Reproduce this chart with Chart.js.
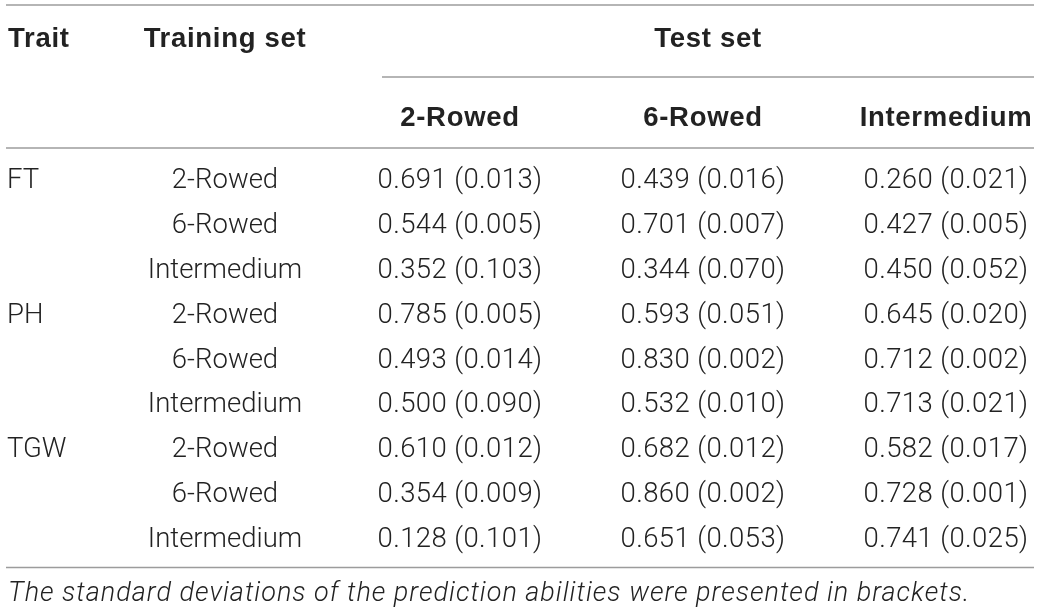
<!DOCTYPE html>
<html>
<head>
<meta charset="utf-8">
<script src="https://cdn.jsdelivr.net/npm/chart.js@4"></script>
<style>
  html, body { margin: 0; padding: 0; background: #ffffff; }
  canvas { display: block; }
</style>
</head>
<body>
<canvas id="c" width="1040" height="613"></canvas>
<script>
// ---- data ----
const traits = ['FT', 'PH', 'TGW'];
const trainingSets = ['2-Rowed', '6-Rowed', 'Intermedium'];
const testSets = ['2-Rowed', '6-Rowed', 'Intermedium'];
const headerTrait = 'Trait';
const headerTraining = 'Training set';
const headerTest = 'Test set';
const footnote = 'The standard deviations of the prediction abilities were presented in brackets.';

// rows: FT(2R,6R,Int), PH(2R,6R,Int), TGW(2R,6R,Int)
const mean2Rowed = [0.691, 0.544, 0.352, 0.785, 0.493, 0.500, 0.610, 0.354, 0.128];
const sd2Rowed   = [0.013, 0.005, 0.103, 0.005, 0.014, 0.090, 0.012, 0.009, 0.101];
const mean6Rowed = [0.439, 0.701, 0.344, 0.593, 0.830, 0.532, 0.682, 0.860, 0.651];
const sd6Rowed   = [0.016, 0.007, 0.070, 0.051, 0.002, 0.010, 0.012, 0.002, 0.053];
const meanInter  = [0.260, 0.427, 0.450, 0.645, 0.712, 0.713, 0.582, 0.728, 0.741];
const sdInter    = [0.021, 0.005, 0.052, 0.020, 0.002, 0.021, 0.017, 0.001, 0.025];

// ---- build structures for the library ----
const rowKeys = [];
traits.forEach(t => trainingSets.forEach(s => rowKeys.push(t + ' | ' + s)));
const means = [mean2Rowed, mean6Rowed, meanInter];
const sds = [sd2Rowed, sd6Rowed, sdInter];

const datasets = testSets.map((ts, i) => ({
  label: ts,
  data: rowKeys.map((rk, r) => ({ x: ts, y: rk, v: means[i][r], sd: sds[i][r] })),
  pointRadius: 0,
  pointHoverRadius: 0
}));

// ---- styles ----
const ink = '#222222';
const rule = '#9c9c9c';
const fontRegular = '300 27.5px Roboto, "Liberation Sans", sans-serif';
const fontBold = 'bold 27.5px "Liberation Sans", Arial, sans-serif';
const fontItalic = 'italic 300 27px Roboto, "Liberation Sans", sans-serif';

const tablePlugin = {
  id: 'tablePlugin',
  afterDatasetsDraw(chart) {
    const ctx = chart.ctx;
    const xs = chart.scales.x, ys = chart.scales.y;
    const area = chart.chartArea;
    const leftEdge = 6, rightEdge = 1034;
    const capShift = 9.5;
    const trainX = area.left - 235;

    ctx.save();
    // rules
    ctx.strokeStyle = rule;
    ctx.lineWidth = 1.5;
    const hline = (x1, x2, y) => { ctx.beginPath(); ctx.moveTo(x1, y); ctx.lineTo(x2, y); ctx.stroke(); };
    hline(leftEdge, rightEdge, area.top - 151);
    const spanLeft = area.left - 78;
    hline(spanLeft, rightEdge, area.top - 79);
    hline(leftEdge, rightEdge, area.top - 8);
    hline(leftEdge, rightEdge, area.bottom + 7.5);

    // header
    ctx.fillStyle = ink;
    ctx.font = fontBold;
    ctx.letterSpacing = '0.7px';
    ctx.textBaseline = 'alphabetic';
    ctx.textAlign = 'left';
    ctx.fillText(headerTrait, 8, area.top - 109);
    ctx.textAlign = 'center';
    ctx.fillText(headerTraining, trainX, area.top - 109);
    ctx.fillText(headerTest, (spanLeft + rightEdge) / 2, area.top - 109);
    testSets.forEach((ts, i) => ctx.fillText(ts, xs.getPixelForValue(i), area.top - 30));
    ctx.letterSpacing = '0px';

    // body
    ctx.font = fontRegular;
    rowKeys.forEach((rk, r) => {
      const y = ys.getPixelForValue(r) + capShift;
      const ti = Math.floor(r / trainingSets.length);
      const si = r % trainingSets.length;
      if (si === 0) {
        ctx.textAlign = 'left';
        ctx.fillText(traits[ti], 7, y);
      }
      ctx.textAlign = 'center';
      ctx.fillText(trainingSets[si], trainX, y);
    });
    ctx.letterSpacing = '0.4px';
    chart.data.datasets.forEach((ds, i) => {
      const meta = chart.getDatasetMeta(i);
      meta.data.forEach((pt, j) => {
        const d = ds.data[j];
        ctx.textAlign = 'center';
        ctx.fillText(d.v.toFixed(3) + ' (' + d.sd.toFixed(3) + ')', pt.x, pt.y + capShift);
      });
    });

    // footnote
    ctx.font = fontItalic;
    ctx.letterSpacing = '1px';
    ctx.textAlign = 'left';
    ctx.fillText(footnote, 8, area.bottom + 41);
    ctx.letterSpacing = '0px';
    ctx.restore();
  }
};

new Chart(document.getElementById('c'), {
  type: 'scatter',
  data: { datasets },
  options: {
    responsive: false,
    animation: false,
    devicePixelRatio: 1,
    layout: { padding: { top: 156, bottom: 53, left: 460, right: 94 } },
    plugins: { legend: { display: false }, tooltip: { enabled: false } },
    events: [],
    scales: {
      x: { type: 'category', labels: testSets, offset: false, display: false },
      y: { type: 'category', labels: rowKeys, offset: true, display: false }
    }
  },
  plugins: [tablePlugin]
});
</script>
</body>
</html>
